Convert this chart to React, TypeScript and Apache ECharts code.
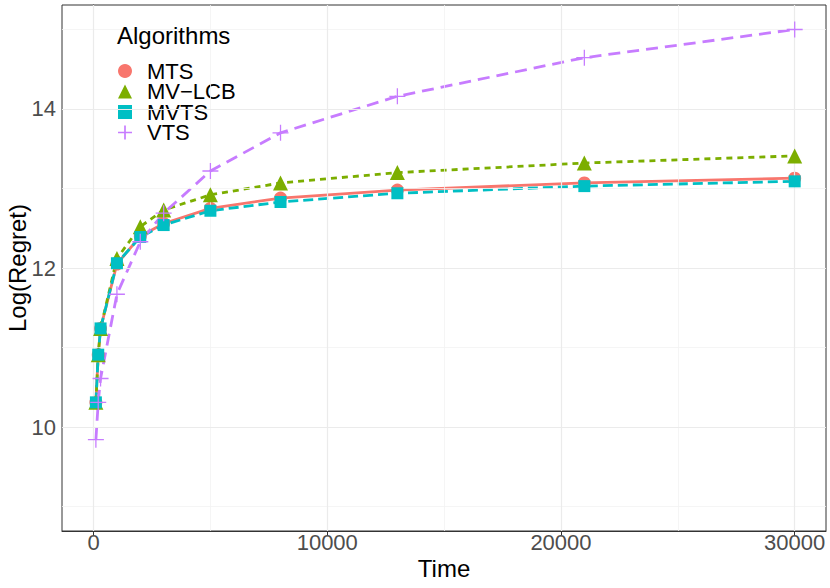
import React, { useEffect, useRef } from "react";
import * as echarts from "echarts";

const times = [100, 200, 300, 1000, 2000, 3000, 5000, 8000, 13000, 21000, 30000];
const mts = [10.31, 10.91, 11.24, 12.05, 12.40, 12.56, 12.75, 12.88, 12.98, 13.07, 13.13];
const mvlcb = [10.31, 10.91, 11.24, 12.12, 12.52, 12.73, 12.92, 13.07, 13.20, 13.32, 13.41];
const mvts = [10.31, 10.91, 11.24, 12.06, 12.39, 12.54, 12.72, 12.83, 12.94, 13.03, 13.09];
const vts = [9.84, 10.31, 10.61, 11.67, 12.33, 12.69, 13.22, 13.70, 14.16, 14.645, 15.0];

const xTicks = [0, 10000, 20000, 30000];
const xMinor = [5000, 15000, 25000];
const yTicks = [10, 12, 14];
const yMinor = [9, 11, 13, 15];

const names = ["MTS", "MV\u2212LCB", "MVTS", "VTS"];
const colors = ["#F8766D", "#7CAE00", "#00BFC4", "#C77CFF"];
const values = [mts, mvlcb, mvts, vts];

const PLUS_THIN = "path://M9.2,0H10.8V9.2H20V10.8H10.8V20H9.2V10.8H0V9.2H9.2Z";
const PLUS_LEG = "path://M8.8,0H11.2V8.8H20V11.2H11.2V20H8.8V11.2H0V8.8H8.8Z";

const FONT = "Liberation Sans, Arial, sans-serif";

export default function App() {
  const ref = useRef<HTMLDivElement>(null);
  useEffect(() => {
    document.body.style.margin = "0";
    const chart = echarts.init(ref.current!, null, { renderer: "svg" });
    const lineTypes: any[] = ["solid", [6, 5], [10, 5], [12, 7]];
    const symbols = ["circle", "triangle", "rect", PLUS_THIN];
    const sizes = [13, 15, 12, 16];
    const legendIcons = ["circle", "triangle", "rect", PLUS_LEG];

    const lineSeries = names.map((n, i) => ({
      name: n,
      type: "line",
      data: times.map((t, j) => [t, values[i][j]]),
      showSymbol: false,
      symbol: "none",
      lineStyle: { color: colors[i], width: 2.8, type: lineTypes[i] },
      itemStyle: { color: colors[i] },
      z: 3,
      silent: true,
    }));
    const pointSeries = names.map((n, i) => ({
      name: n,
      type: "scatter",
      data: times.map((t, j) => [t, values[i][j]]),
      symbol: symbols[i],
      symbolSize: sizes[i],
      itemStyle: { color: colors[i], opacity: 1 },
      z: 4 + i,
      silent: true,
    }));

    const gridColor = "#EBEBEB";
    const gridSeries = {
      name: "grid",
      type: "line",
      data: [],
      z: 1,
      silent: true,
      markLine: {
        silent: true,
        symbol: "none",
        label: { show: false },
        animation: false,
        data: [
          ...xMinor.map((v) => ({ xAxis: v, lineStyle: { color: "#F2F2F2", width: 0.8, type: "solid" } })),
          ...yMinor.map((v) => ({ yAxis: v, lineStyle: { color: "#F2F2F2", width: 0.8, type: "solid" } })),
          ...xTicks.map((v) => ({ xAxis: v, lineStyle: { color: gridColor, width: 1.2, type: "solid" } })),
          ...yTicks.map((v) => ({ yAxis: v, lineStyle: { color: gridColor, width: 1.2, type: "solid" } })),
        ],
      },
    };

    chart.setOption({
      animation: false,
      backgroundColor: "#FFFFFF",
      textStyle: { fontFamily: FONT },
      title: {
        text: "Algorithms",
        left: 117,
        top: 23,
        padding: 0,
        textStyle: { fontFamily: FONT, fontSize: 24, fontWeight: "normal", color: "#000000" },
      },
      legend: {
        orient: "vertical",
        left: 118,
        top: 60,
        padding: 0,
        itemWidth: 14,
        itemHeight: 14,
        itemGap: -1.5,
        selectedMode: false,
        data: names.map((n, i) => ({ name: n, icon: legendIcons[i], itemStyle: { color: colors[i] } })),
        textStyle: { fontFamily: FONT, fontSize: 22, color: "#000000", lineHeight: 20.5, padding: [0, 0, 0, 10] },
      },
      grid: {
        left: 62,
        right: 4,
        top: 5,
        bottom: 57,
        show: true,
        borderColor: "#333333",
        borderWidth: 1,
        backgroundColor: "#FFFFFF",
        containLabel: false,
        outerBoundsMode: "none",
      },
      xAxis: {
        type: "value",
        min: -1350,
        max: 31340,
        name: "Time",
        nameLocation: "middle",
        nameGap: 25,
        nameMoveOverlap: false,
        nameTextStyle: { fontFamily: FONT, fontSize: 24, color: "#000000" },
        axisLine: { show: true, lineStyle: { color: "#333333", width: 1 } },
        axisTick: { show: true, length: 4, lineStyle: { color: "#333333" }, customValues: xTicks },
        axisLabel: { fontFamily: FONT, fontSize: 22, color: "#4D4D4D", margin: 0, customValues: xTicks, formatter: (v: number) => String(v) },
        splitLine: { show: false },
      },
      yAxis: {
        type: "value",
        min: 8.692,
        max: 15.308,
        name: "Log(Regret)",
        nameLocation: "middle",
        nameGap: 33,
        nameMoveOverlap: false,
        nameTextStyle: { fontFamily: FONT, fontSize: 24, color: "#000000" },
        axisLine: { show: true, lineStyle: { color: "#333333", width: 1 } },
        axisTick: { show: true, length: 4, lineStyle: { color: "#333333" }, customValues: yTicks },
        axisLabel: { fontFamily: FONT, fontSize: 22, color: "#4D4D4D", margin: 6, customValues: yTicks, formatter: (v: number) => String(v) },
        splitLine: { show: false },
      },
      series: [gridSeries, ...lineSeries, ...pointSeries],
    });
    return () => chart.dispose();
  }, []);
  return <div ref={ref} style={{ position: "fixed", left: 0, top: 0, width: 830, height: 588 }} />;
}
